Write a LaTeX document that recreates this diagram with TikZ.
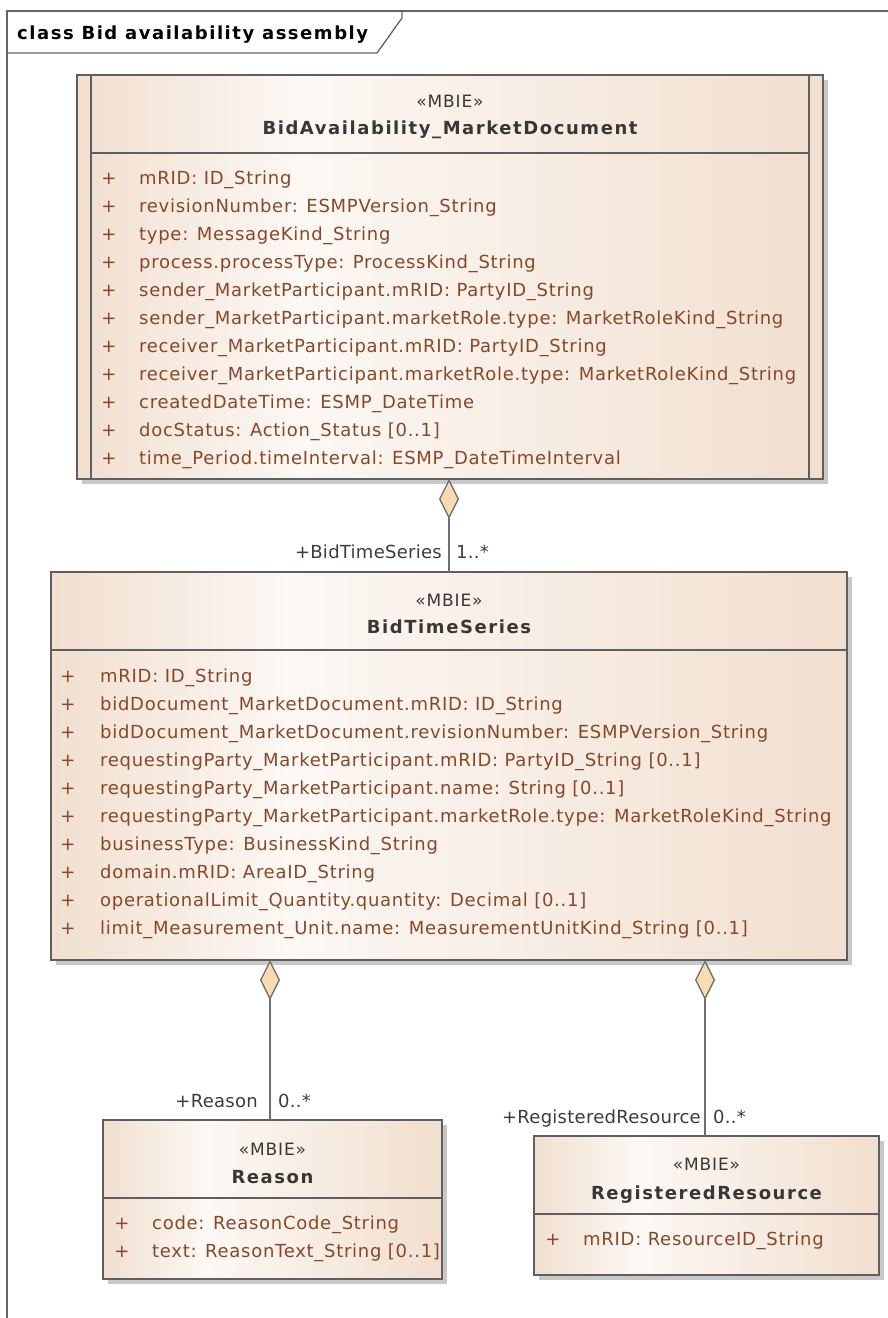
\documentclass[tikz,border=0pt]{standalone}
\usepackage{fontspec}
\setmainfont{DejaVu Sans}
\newfontfamily\attrfont[LetterSpace=4.0]{DejaVu Sans}
\newfontfamily\namefont[LetterSpace=8.7]{DejaVu Sans}
\newfontfamily\titlefont[LetterSpace=8.5]{DejaVu Sans}
\newfontfamily\stereofont[LetterSpace=5]{DejaVu Sans}
\newfontfamily\labelfont[LetterSpace=1.5]{DejaVu Sans}
\usetikzlibrary{shadows,arrows.meta}
\definecolor{cbeige}{RGB}{241,223,207}
\definecolor{clight}{RGB}{252,248,244}
\definecolor{cborder}{RGB}{95,95,95}
\definecolor{cshadow}{RGB}{200,200,200}
\definecolor{cattr}{RGB}{135,72,42}
\definecolor{chead}{RGB}{55,55,55}
\definecolor{clabel}{RGB}{60,60,60}
\definecolor{cdiam}{RGB}{247,219,178}
\definecolor{cline}{RGB}{110,110,110}
\definecolor{cframe}{RGB}{100,100,100}
\pgfdeclarehorizontalshading{classshade}{100bp}{color(0bp)=(cbeige); color(25bp)=(cbeige); color(40bp)=(clight); color(75bp)=(cbeige); color(100bp)=(cbeige)}
\begin{document}
\begin{tikzpicture}[x=1pt,y=-1pt,
  classbox/.style={draw=cborder, line width=1.5pt, shading=classshade,
    drop shadow={shadow xshift=5pt, shadow yshift=-5pt, fill=cshadow, opacity=1},
    anchor=north west, inner sep=0pt, outer sep=0pt},
  sepline/.style={draw=cborder, line width=1.5pt},
  stereo/.style={font=\stereofont\fontsize{17}{20}\selectfont, text=chead, anchor=base, inner sep=0pt},
  cname/.style={font=\namefont\fontsize{18}{21}\selectfont\bfseries, text=chead, anchor=base, inner sep=0pt},
  attr/.style={font=\attrfont\fontsize{18}{21}\selectfont, text=cattr, anchor=base west, inner sep=0pt},
  vis/.style={font=\attrfont\fontsize{18}{21}\selectfont, text=cattr, anchor=base, inner sep=0pt},
  assoc/.style={draw=cline, line width=1.3pt, {Diamond[length=40pt,width=20pt,fill=cdiam,line width=1.3pt]}-},
  rolel/.style={font=\labelfont\fontsize{18}{21}\selectfont, text=clabel, anchor=base east, inner sep=0pt},
  roler/.style={font=\labelfont\fontsize{18}{21}\selectfont, text=clabel, anchor=base west, inner sep=0pt},
  framel/.style={draw=cframe, line width=1.3pt},
  titlet/.style={font=\titlefont\fontsize{18}{21}\selectfont\bfseries, text=black, anchor=base west, inner sep=0pt}
]
\useasboundingbox (0,0) rectangle (887,1318);
% frame
\draw[framel] (7,1320) -- (7,11) -- (889,11);
\draw[framel] (7,53) -- (377,53) -- (402,18) -- (402,11);
\node[titlet] (title) at (17,39) {class Bid availability assembly};

% ---------- BidAvailability_MarketDocument
\node[classbox, minimum width=746pt, minimum height=404pt] (doc) at (77,75) {};
\draw[sepline] (doc.north west) ++(14,0) coordinate (docil) -- (docil |- doc.south);
\draw[sepline] (doc.north east) ++(-14,0) coordinate (docir) -- (docir |- doc.south);
\draw[sepline] (docil |- 0,153) -- (docir |- 0,153);
\node[stereo] (docS) at (450,107) {«MBIE»};
\node[cname] (docN) at (450,134) {BidAvailability\_MarketDocument};
\foreach \t [count=\i from 0] in {
  {mRID: ID\_String},
  {revisionNumber: ESMPVersion\_String},
  {type: MessageKind\_String},
  {process.processType: ProcessKind\_String},
  {sender\_MarketParticipant.mRID: PartyID\_String},
  {sender\_MarketParticipant.marketRole.type: MarketRoleKind\_String},
  {receiver\_MarketParticipant.mRID: PartyID\_String},
  {receiver\_MarketParticipant.marketRole.type: MarketRoleKind\_String},
  {createdDateTime: ESMP\_DateTime},
  {docStatus: Action\_Status [0..1]},
  {time\_Period.timeInterval: ESMP\_DateTimeInterval}}{
  \node[vis] (docV\i) at (109,{184+28*\i}) {+};
  \node[attr] (docA\i) at (139,{184+28*\i}) {\t};
}

% ---------- BidTimeSeries
\node[classbox, minimum width=796pt, minimum height=388pt] (bts) at (51,572) {};
\draw[sepline] (bts.north west |- 0,650) -- (bts.north east |- 0,650);
\node[stereo] (btsS) at (449,606) {«MBIE»};
\node[cname] (btsN) at (449,633) {BidTimeSeries};
\foreach \t [count=\i from 0] in {
  {mRID: ID\_String},
  {bidDocument\_MarketDocument.mRID: ID\_String},
  {bidDocument\_MarketDocument.revisionNumber: ESMPVersion\_String},
  {requestingParty\_MarketParticipant.mRID: PartyID\_String [0..1]},
  {requestingParty\_MarketParticipant.name: String [0..1]},
  {requestingParty\_MarketParticipant.marketRole.type: MarketRoleKind\_String},
  {businessType: BusinessKind\_String},
  {domain.mRID: AreaID\_String},
  {operationalLimit\_Quantity.quantity: Decimal [0..1]},
  {limit\_Measurement\_Unit.name: MeasurementUnitKind\_String [0..1]}}{
  \node[vis] (btsV\i) at (68,{682+28*\i}) {+};
  \node[attr] (btsA\i) at (100,{682+28*\i}) {\t};
}

% ---------- Reason
\node[classbox, minimum width=339pt, minimum height=159pt] (rsn) at (103,1120) {};
\draw[sepline] (rsn.north west |- 0,1198) -- (rsn.north east |- 0,1198);
\node[stereo] (rsnS) at (272.5,1155) {«MBIE»};
\node[cname] (rsnN) at (272.5,1183) {Reason};
\node[vis] (rsnV0) at (122,1229) {+};
\node[attr] (rsnA0) at (152,1229) {code: ReasonCode\_String};
\node[vis] (rsnV1) at (122,1257) {+};
\node[attr] (rsnA1) at (152,1257) {text: ReasonText\_String [0..1]};

% ---------- RegisteredResource
\node[classbox, minimum width=345pt, minimum height=139pt] (res) at (534,1136) {};
\draw[sepline] (res.north west |- 0,1214) -- (res.north east |- 0,1214);
\node[stereo] (resS) at (706.5,1170) {«MBIE»};
\node[cname] (resN) at (706.5,1199) {RegisteredResource};
\node[vis] (resV0) at (553,1245) {+};
\node[attr] (resA0) at (583,1245) {mRID: ResourceID\_String};

% ---------- associations
\draw[assoc] (doc.south -| bts.north) -- (bts.north);
\node[rolel] (l1a) at (442,558) {+BidTimeSeries};
\node[roler] (l1b) at (456,558) {1..*};

\draw[assoc] ([xshift=-2.5pt]rsn.north |- bts.south) -- ([xshift=-2.5pt]rsn.north);
\node[rolel] (l2a) at (258,1107) {+Reason};
\node[roler] (l2b) at (278,1107) {0..*};

\draw[assoc] ([xshift=-1.5pt]res.north |- bts.south) -- ([xshift=-1.5pt]res.north);
\node[rolel] (l3a) at (701,1123) {+RegisteredResource};
\node[roler] (l3b) at (713,1123) {0..*};
\end{tikzpicture}
\end{document}
